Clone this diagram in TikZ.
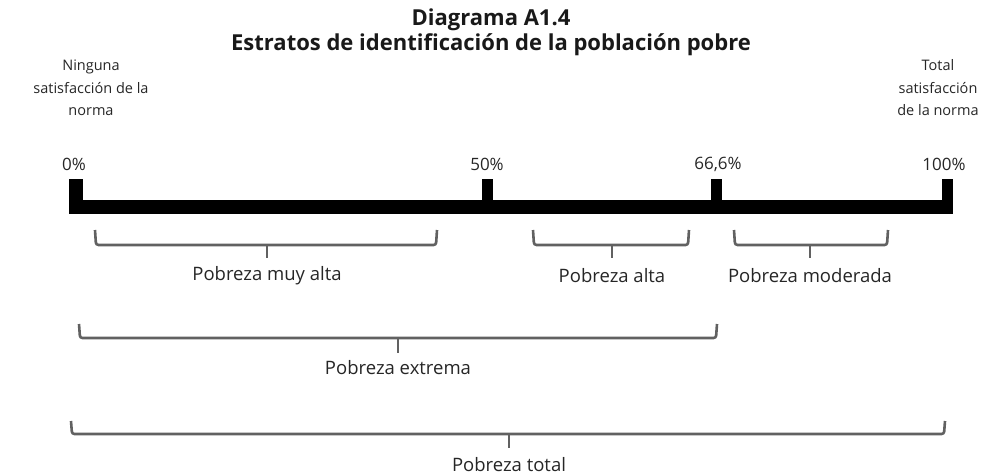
\documentclass[tikz,border=0pt]{standalone}
\usepackage{fontspec}
\setmainfont{Open Sans}
\begin{document}
\begin{tikzpicture}[x=1pt,y=-1pt,
  lbl/.style={font=\fontsize{18.5}{22}\selectfont, text=black!85, inner sep=0pt, align=center},
  endlbl/.style={font=\fontsize{14.5}{22.5}\selectfont, text=black!85, inner sep=0pt, align=center},
  pct/.style={font=\fontsize{17}{20}\selectfont, text=black!85, inner sep=0pt},
  ttl/.style={font=\bfseries\fontsize{22}{25}\selectfont, text=black!90, inner sep=0pt, align=center},
  brc/.style={draw=black!62, line width=2.6pt, rounded corners=2.5pt},
  stem/.style={draw=black!62, line width=2.6pt},
  tick/.style={fill=black}]
\useasboundingbox (0,0) rectangle (982,476);
% title
\node[ttl] (title) at (491,32) {Diagrama A1.4\\Estratos de identificación de la población pobre};
% end labels
\node[endlbl] (left) at (91,88) {Ninguna\\satisfacción de la\\norma};
\node[endlbl] (right) at (938,88) {Total\\satisfacción\\de la norma};
% bar
\fill[tick] (69,200) rectangle (953,214);
\fill[tick] (69,179) rectangle (83,200);
\fill[tick] (482,179) rectangle (493,200);
\fill[tick] (711,179) rectangle (722,200);
\fill[tick] (942,179) rectangle (953,200);
\node[pct] (p0) at (74,164) {0\%};
\node[pct] (p50) at (487,164) {50\%};
\node[pct] (p66) at (718,164) {66,6\%};
\node[pct] (p100) at (944,164) {100\%};
% braces
\draw[brc] (95,230) -- (96,245) -- (436,245) -- (437,230);
\draw[stem] (267,244) -- (267,258);
\node[lbl] (muy) at (267,276) {Pobreza muy alta};
\draw[brc] (533,230) -- (534,245) -- (688,245) -- (689,230);
\draw[stem] (612,244) -- (612,258);
\node[lbl] (alta) at (612,276) {Pobreza alta};
\draw[brc] (734,230) -- (735,245) -- (887,245) -- (888,230);
\draw[stem] (810,244) -- (810,258);
\node[lbl] (mod) at (810,276) {Pobreza moderada};
\draw[brc] (79,324) -- (80,338) -- (716,338) -- (717,324);
\draw[stem] (398,337) -- (398,353);
\node[lbl] (ext) at (398,368) {Pobreza extrema};
\draw[brc] (71,421) -- (72,434) -- (944,434) -- (945,421);
\draw[stem] (509,433) -- (509,448);
\node[lbl] (tot) at (509,465) {Pobreza total};
\end{tikzpicture}
\end{document}
